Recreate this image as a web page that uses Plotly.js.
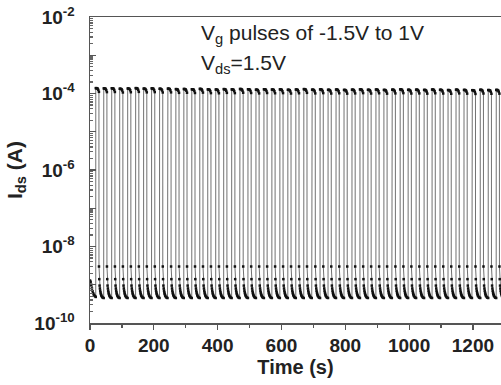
<!DOCTYPE html>
<html>
<head>
<meta charset="utf-8">
<script src="https://cdn.plot.ly/plotly-3.0.1.min.js"></script>
<style>html,body{margin:0;padding:0;background:#fff;}#chart{width:501px;height:385px;}</style>
</head>
<body>
<div id="chart"></div>
<script>
// Initial low (off) state before the first pulse
const initTimes = [0, 2, 4, 6, 8, 10, 12, 14, 16, 18];
const initValues = [1.3e-9, 1.2e-9, 1.0e-9, 8.0e-10, 6.8e-10, 6.0e-10, 5.5e-10, 5.2e-10, 5.0e-10, 4.8e-10];

// Rise times of each gate pulse (s)
const riseTimes = [18, 43, 68, 93, 118, 143, 168, 193, 218, 244, 269, 294, 319, 344, 369, 394, 419, 444, 470, 495,
  520, 545, 570, 595, 620, 645, 670, 696, 721, 746, 771, 796, 821, 846, 871, 896, 921, 947, 972, 997,
  1022, 1047, 1072, 1097, 1122, 1147, 1172, 1198, 1223, 1248, 1273];

// On-state current of each pulse (A)
const highLevels = [1.38e-4, 1.36e-4, 1.37e-4, 1.33e-4, 1.35e-4, 1.38e-4, 1.34e-4, 1.36e-4, 1.33e-4, 1.34e-4,
  1.30e-4, 1.31e-4, 1.29e-4, 1.32e-4, 1.28e-4, 1.27e-4, 1.30e-4, 1.28e-4, 1.31e-4, 1.29e-4,
  1.26e-4, 1.29e-4, 1.27e-4, 1.28e-4, 1.25e-4, 1.27e-4, 1.30e-4, 1.26e-4, 1.28e-4, 1.25e-4,
  1.27e-4, 1.24e-4, 1.26e-4, 1.28e-4, 1.25e-4, 1.27e-4, 1.24e-4, 1.26e-4, 1.28e-4, 1.25e-4,
  1.26e-4, 1.24e-4, 1.27e-4, 1.25e-4, 1.23e-4, 1.26e-4, 1.24e-4, 1.22e-4, 1.25e-4, 1.23e-4, 1.24e-4];

// Within-pulse on-state samples: time after rise (s) and relative level
const highOffsets = [0.1, 2, 4, 6, 8, 10];
const highShape = [1.0, 1.0, 0.99, 0.97, 0.9, 0.8];

// Within-pulse off-state samples: time after rise (s) and current (A)
const lowOffsets = [10.1, 11, 12, 13, 14, 15, 16, 17, 18, 20, 22, 24.9];
const lowValues = [3.0e-9, 1.4e-9, 9.5e-10, 8.0e-10, 7.0e-10, 6.3e-10, 5.8e-10, 5.4e-10, 5.1e-10, 4.8e-10, 4.6e-10, 4.5e-10];

const yTickVals = [1e-10, 1e-9, 1e-8, 1e-7, 1e-6, 1e-5, 1e-4, 1e-3, 1e-2];
const yTickText = ['10<sup>-10</sup>', '', '10<sup>-8</sup>', '', '10<sup>-6</sup>', '', '10<sup>-4</sup>', '', '10<sup>-2</sup>'];

const xs = [], ys = [];
initTimes.forEach((t, i) => { xs.push(t); ys.push(initValues[i]); });
riseTimes.forEach((t0, k) => {
  highOffsets.forEach((o, i) => { xs.push(t0 + o); ys.push(highLevels[k] * highShape[i]); });
  lowOffsets.forEach((o, i) => { xs.push(t0 + o); ys.push(lowValues[i]); });
});

const minorVals = [];
for (let e = -10; e < -2; e++) for (let m = 2; m <= 9; m++) minorVals.push(m * Math.pow(10, e));

const font = 'Liberation Sans, Arial, sans-serif';
Plotly.newPlot('chart', [{
  x: xs, y: ys, type: 'scatter', mode: 'lines+markers',
  line: {color: '#333', width: 0.7},
  marker: {color: '#111', size: 2.5, symbol: 'square'},
  cliponaxis: true
}], {
  width: 501, height: 385,
  margin: {l: 90, r: 0, t: 17, b: 62},
  paper_bgcolor: '#fff', plot_bgcolor: '#fff',
  showlegend: false,
  font: {family: font, color: '#222'},
  xaxis: {
    range: [0, 1288], showgrid: false, zeroline: false,
    showline: true, linecolor: '#555', linewidth: 1.5, mirror: true,
    ticks: 'outside', ticklen: 5, tickwidth: 1.2, tickcolor: '#555',
    tickmode: 'linear', tick0: 0, dtick: 200,
    minor: {ticks: 'outside', ticklen: 3, tickcolor: '#555', dtick: 100, tick0: 0},
    tickfont: {family: font, size: 19, color: '#222', weight: 'bold'},
    title: {text: '<b>Time (s)</b>', font: {family: font, size: 20, color: '#222'}, standoff: 3}
  },
  yaxis: {
    type: 'log', range: [-10, -2], showgrid: false, zeroline: false,
    showline: true, linecolor: '#555', linewidth: 1.5,
    ticks: 'inside', ticklen: 6, tickwidth: 1.2, tickcolor: '#555',
    tickmode: 'array', tickvals: yTickVals, ticktext: yTickText,
    minor: {ticks: 'inside', ticklen: 3, tickcolor: '#666', tickmode: 'array', tickvals: minorVals},
    tickfont: {family: font, size: 19, color: '#222', weight: 'bold'},
    ticklabelstandoff: 10,
    title: {text: '<b>I<sub>ds</sub> (A)</b>', font: {family: font, size: 21, color: '#222'}, standoff: 6}
  },
  annotations: [
    {xref: 'paper', yref: 'paper', x: 0.264, y: 0.945, xanchor: 'left', yanchor: 'middle', showarrow: false,
     text: 'V<sub>g</sub> pulses of -1.5V to 1V', font: {family: font, size: 21, color: '#222'}},
    {xref: 'paper', yref: 'paper', x: 0.264, y: 0.845, xanchor: 'left', yanchor: 'middle', showarrow: false,
     text: 'V<sub>ds</sub>=1.5V', font: {family: font, size: 21, color: '#222'}}
  ]
}, {staticPlot: true, displayModeBar: false});
</script>
</body>
</html>
